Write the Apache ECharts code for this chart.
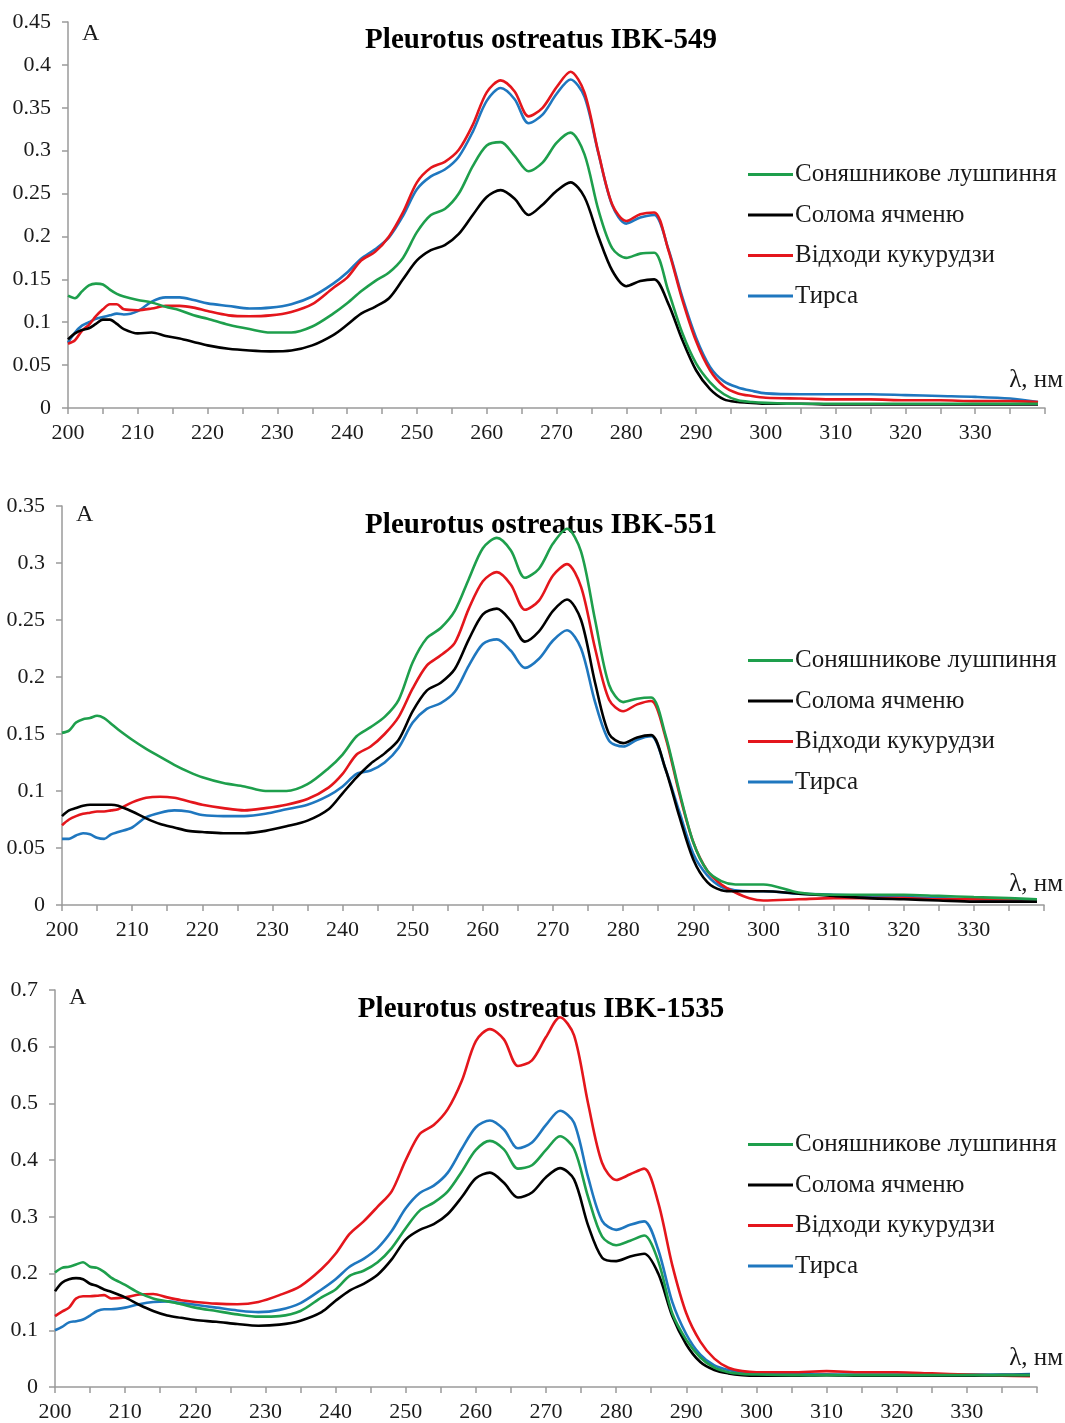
<!DOCTYPE html>
<html>
<head>
<meta charset="utf-8">
<script src="https://cdn.jsdelivr.net/npm/echarts@6/dist/echarts.min.js"></script>
<style>
  html, body { margin: 0; padding: 0; background: #fff; }
  #chart { width: 1065px; height: 1423px; }
</style>
</head>
<body>
<div id="chart"></div>
<script>
// wavelengths, nm
const lambda = [200, 201, 202, 203, 204, 205, 206, 207, 208, 210, 212, 214, 216, 218, 220,
  223, 226, 229, 232, 235, 238, 240, 242, 244, 246, 248, 250, 252, 254, 256, 258, 260,
  262, 264, 266, 268, 270, 272, 274, 276, 278, 280, 282, 284, 286, 288, 290, 292, 294,
  296, 298, 300, 305, 310, 315, 320, 325, 330, 335, 339];

const seriesNames = ["Соняшникове лушпиння", "Солома ячменю", "Відходи кукурудзи", "Тирса"];
const panelTitles = ["Pleurotus ostreatus IBK-549", "Pleurotus ostreatus IBK-551", "Pleurotus ostreatus IBK-1535"];
const xTickLabels = [200, 210, 220, 230, 240, 250, 260, 270, 280, 290, 300, 310, 320, 330];
const yMax = [0.45, 0.35, 0.7];
const yStep = [0.05, 0.05, 0.1];

// IBK-549
const sunflower549 = [0.131, 0.128, 0.136, 0.143, 0.145, 0.144, 0.138, 0.133, 0.130, 0.126, 0.123, 0.118, 0.114, 0.108, 0.104,
  0.097, 0.092, 0.088, 0.088, 0.095, 0.110, 0.122, 0.136, 0.148, 0.158, 0.175, 0.205, 0.225, 0.232, 0.250, 0.282, 0.306,
  0.310, 0.294, 0.276, 0.286, 0.309, 0.321, 0.296, 0.231, 0.186, 0.175, 0.180, 0.181, 0.137, 0.088, 0.052, 0.030, 0.016,
  0.009, 0.007, 0.006, 0.005, 0.005, 0.005, 0.005, 0.005, 0.005, 0.005, 0.005];
const straw549 = [0.080, 0.087, 0.091, 0.093, 0.098, 0.103, 0.103, 0.098, 0.092, 0.087, 0.088, 0.084, 0.081, 0.077, 0.073,
  0.069, 0.067, 0.066, 0.067, 0.073, 0.085, 0.097, 0.110, 0.118, 0.128, 0.150, 0.172, 0.184, 0.190, 0.203, 0.225, 0.246,
  0.254, 0.244, 0.225, 0.237, 0.253, 0.263, 0.246, 0.200, 0.160, 0.142, 0.148, 0.150, 0.122, 0.080, 0.044, 0.022, 0.010,
  0.007, 0.006, 0.005, 0.005, 0.004, 0.004, 0.004, 0.004, 0.004, 0.004, 0.004];
const corn549 = [0.075, 0.079, 0.090, 0.097, 0.107, 0.115, 0.121, 0.121, 0.115, 0.114, 0.116, 0.119, 0.119, 0.117, 0.113,
  0.108, 0.107, 0.108, 0.112, 0.121, 0.140, 0.152, 0.172, 0.182, 0.200, 0.228, 0.263, 0.280, 0.287, 0.301, 0.330, 0.368,
  0.382, 0.369, 0.340, 0.350, 0.374, 0.392, 0.368, 0.298, 0.237, 0.218, 0.226, 0.228, 0.185, 0.127, 0.078, 0.044, 0.025,
  0.017, 0.014, 0.012, 0.011, 0.010, 0.010, 0.009, 0.009, 0.008, 0.008, 0.007];
const sawdust549 = [0.076, 0.088, 0.096, 0.100, 0.104, 0.106, 0.108, 0.110, 0.109, 0.113, 0.124, 0.129, 0.129, 0.126, 0.122,
  0.119, 0.116, 0.117, 0.121, 0.130, 0.145, 0.158, 0.174, 0.185, 0.199, 0.224, 0.255, 0.270, 0.278, 0.293, 0.322, 0.358,
  0.373, 0.360, 0.332, 0.342, 0.366, 0.383, 0.363, 0.297, 0.236, 0.215, 0.222, 0.225, 0.186, 0.130, 0.082, 0.048, 0.031,
  0.024, 0.020, 0.017, 0.016, 0.016, 0.016, 0.015, 0.014, 0.013, 0.011, 0.007];

// IBK-551
const sunflower551 = [0.151, 0.153, 0.160, 0.163, 0.164, 0.166, 0.164, 0.159, 0.154, 0.145, 0.137, 0.130, 0.123, 0.117, 0.112,
  0.107, 0.104, 0.100, 0.100, 0.106, 0.120, 0.132, 0.148, 0.156, 0.165, 0.180, 0.213, 0.234, 0.243, 0.258, 0.286, 0.313,
  0.322, 0.311, 0.287, 0.295, 0.317, 0.330, 0.310, 0.250, 0.193, 0.178, 0.181, 0.182, 0.150, 0.100, 0.055, 0.030, 0.021,
  0.018, 0.018, 0.018, 0.011, 0.009, 0.009, 0.009, 0.008, 0.007, 0.006, 0.005];
const straw551 = [0.078, 0.083, 0.085, 0.087, 0.088, 0.088, 0.088, 0.088, 0.087, 0.082, 0.076, 0.071, 0.068, 0.065, 0.064,
  0.063, 0.063, 0.065, 0.069, 0.074, 0.084, 0.098, 0.112, 0.124, 0.133, 0.145, 0.170, 0.188, 0.195, 0.207, 0.233, 0.255,
  0.260, 0.249, 0.231, 0.240, 0.258, 0.268, 0.250, 0.195, 0.150, 0.142, 0.147, 0.149, 0.120, 0.078, 0.040, 0.020, 0.013,
  0.012, 0.012, 0.012, 0.010, 0.008, 0.006, 0.005, 0.004, 0.003, 0.003, 0.003];
const corn551 = [0.070, 0.075, 0.078, 0.080, 0.081, 0.082, 0.082, 0.083, 0.084, 0.090, 0.094, 0.095, 0.094, 0.091, 0.088,
  0.085, 0.083, 0.085, 0.088, 0.093, 0.103, 0.115, 0.132, 0.139, 0.150, 0.165, 0.190, 0.210, 0.219, 0.230, 0.260, 0.284,
  0.292, 0.281, 0.259, 0.267, 0.289, 0.299, 0.279, 0.225, 0.180, 0.170, 0.176, 0.179, 0.148, 0.098, 0.055, 0.030, 0.018,
  0.011, 0.006, 0.004, 0.005, 0.006, 0.006, 0.006, 0.005, 0.005, 0.005, 0.005];
const sawdust551 = [0.058, 0.058, 0.061, 0.063, 0.062, 0.059, 0.058, 0.062, 0.064, 0.068, 0.077, 0.081, 0.083, 0.082, 0.079,
  0.078, 0.078, 0.080, 0.084, 0.088, 0.096, 0.104, 0.115, 0.118, 0.125, 0.138, 0.160, 0.172, 0.177, 0.187, 0.210, 0.229,
  0.233, 0.223, 0.208, 0.216, 0.232, 0.241, 0.225, 0.178, 0.144, 0.139, 0.145, 0.148, 0.120, 0.082, 0.045, 0.026, 0.016,
  0.013, 0.012, 0.012, 0.010, 0.009, 0.008, 0.007, 0.006, 0.005, 0.004, 0.004];

// IBK-1535
const sunflower1535 = [0.202, 0.210, 0.212, 0.216, 0.220, 0.212, 0.210, 0.203, 0.193, 0.180, 0.166, 0.156, 0.151, 0.146, 0.140,
  0.134, 0.128, 0.124, 0.125, 0.134, 0.158, 0.172, 0.196, 0.205, 0.220, 0.245, 0.280, 0.311, 0.325, 0.345, 0.380, 0.418,
  0.434, 0.419, 0.385, 0.391, 0.418, 0.442, 0.420, 0.335, 0.265, 0.250, 0.258, 0.267, 0.222, 0.130, 0.083, 0.052, 0.034,
  0.026, 0.023, 0.022, 0.021, 0.021, 0.021, 0.021, 0.021, 0.021, 0.021, 0.021];
const straw1535 = [0.169, 0.184, 0.190, 0.192, 0.190, 0.182, 0.178, 0.172, 0.168, 0.158, 0.145, 0.134, 0.126, 0.122, 0.118,
  0.115, 0.111, 0.108, 0.110, 0.117, 0.132, 0.152, 0.170, 0.182, 0.198, 0.225, 0.260, 0.277, 0.287, 0.305, 0.335, 0.368,
  0.378, 0.360, 0.334, 0.343, 0.370, 0.386, 0.366, 0.285, 0.228, 0.222, 0.230, 0.235, 0.200, 0.125, 0.075, 0.044, 0.030,
  0.024, 0.021, 0.020, 0.020, 0.021, 0.020, 0.020, 0.020, 0.020, 0.021, 0.021];
const corn1535 = [0.125, 0.133, 0.140, 0.156, 0.160, 0.160, 0.161, 0.162, 0.156, 0.158, 0.163, 0.164, 0.158, 0.153, 0.150,
  0.147, 0.146, 0.150, 0.162, 0.178, 0.208, 0.235, 0.270, 0.292, 0.318, 0.345, 0.400, 0.446, 0.462, 0.490, 0.540, 0.610,
  0.631, 0.613, 0.566, 0.576, 0.617, 0.652, 0.620, 0.500, 0.395, 0.365, 0.375, 0.385, 0.325, 0.215, 0.130, 0.080, 0.050,
  0.034, 0.028, 0.026, 0.026, 0.028, 0.026, 0.026, 0.024, 0.022, 0.020, 0.019];
const sawdust1535 = [0.100, 0.106, 0.114, 0.116, 0.119, 0.126, 0.134, 0.137, 0.137, 0.140, 0.146, 0.150, 0.151, 0.148, 0.145,
  0.140, 0.135, 0.132, 0.136, 0.148, 0.172, 0.190, 0.212, 0.226, 0.245, 0.275, 0.315, 0.342, 0.355, 0.378, 0.420, 0.458,
  0.470, 0.454, 0.421, 0.431, 0.462, 0.487, 0.466, 0.370, 0.293, 0.277, 0.286, 0.292, 0.242, 0.150, 0.093, 0.057, 0.038,
  0.030, 0.026, 0.024, 0.023, 0.022, 0.022, 0.022, 0.022, 0.022, 0.022, 0.023];

const panelData = [
  [sunflower549, straw549, corn549, sawdust549],
  [sunflower551, straw551, corn551, sawdust551],
  [sunflower1535, straw1535, corn1535, sawdust1535],
];

const colors = ["#1e9f4c", "#000000", "#e4161c", "#1f77bf"];
const fontFamily = "'Liberation Serif', 'Times New Roman', serif";

// panel layout (pixels)
const layout = [
  { left: 68, right: 20, top: 22, height: 386, titleTop: 21, legendTop: 162, aY: 22, lamY: 368 },
  { left: 62, right: 21, top: 506, height: 399, titleTop: 506, legendTop: 648, aY: 503, lamY: 872 },
  { left: 55, right: 28, top: 990, height: 398, titleTop: 990, legendTop: 1132, aY: 986, lamY: 1346 },
];

const chart = echarts.init(document.getElementById("chart"));

const grids = [], xAxes = [], yAxes = [], titles = [], legends = [], series = [], graphics = [];

layout.forEach((l, i) => {
  grids.push({ left: l.left, right: l.right, top: l.top, height: l.height, containLabel: false });
  xAxes.push({
    type: "value",
    gridIndex: i,
    min: 200,
    max: 340,
    interval: 5,
    axisLine: { lineStyle: { color: "#9a9a9a", width: 1.5 } },
    axisTick: { show: true, length: 6, lineStyle: { color: "#9a9a9a", width: 1.5 } },
    axisLabel: {
      color: "#1a1a1a",
      fontFamily: fontFamily,
      fontSize: 22,
      margin: 14,
      formatter: (v) => (xTickLabels.indexOf(v) >= 0 ? String(v) : ""),
    },
    splitLine: { show: false },
  });
  yAxes.push({
    type: "value",
    gridIndex: i,
    min: 0,
    max: yMax[i],
    interval: yStep[i],
    axisLine: { show: true, lineStyle: { color: "#9a9a9a", width: 1.5 } },
    axisTick: { show: true, length: 6, lineStyle: { color: "#9a9a9a", width: 1.5 } },
    axisLabel: { color: "#1a1a1a", fontFamily: fontFamily, fontSize: 22, margin: 17 },
    splitLine: { show: false },
  });
  titles.push({
    text: panelTitles[i],
    left: 536,
    textAlign: "center",
    top: l.titleTop,
    textStyle: { fontFamily: fontFamily, fontSize: 29, fontWeight: "bold", color: "#000" },
  });
  legends.push({
    data: seriesNames,
    orient: "vertical",
    left: 748,
    top: l.legendTop,
    padding: 0,
    icon: "rect",
    itemWidth: 45,
    itemHeight: 3,
    itemGap: 15.5,
    textStyle: { fontFamily: fontFamily, fontSize: 25, color: "#1a1a1a", padding: [0, 0, 0, -3] },
  });
  graphics.push({
    type: "text",
    left: l.left + 14,
    top: l.aY,
    style: { text: "A", font: "24px " + fontFamily, fill: "#1a1a1a" },
  });
  graphics.push({
    type: "text",
    right: 2,
    top: l.lamY,
    style: { text: "λ, нм", font: "25px " + fontFamily, fill: "#1a1a1a" },
  });

  panelData[i].forEach((vals, j) => {
    series.push({
      name: seriesNames[j],
      type: "line",
      xAxisIndex: i,
      yAxisIndex: i,
      data: lambda.map((x, k) => [x, vals[k]]),
      showSymbol: false,
      smooth: 0.3,
      lineStyle: { color: colors[j], width: 2.6 },
      itemStyle: { color: colors[j] },
      z: 10 - j,
    });
  });
});

chart.setOption({
  backgroundColor: "#fff",
  animation: false,
  title: titles,
  legend: legends,
  grid: grids,
  xAxis: xAxes,
  yAxis: yAxes,
  graphic: graphics,
  series: series,
});
</script>
</body>
</html>
